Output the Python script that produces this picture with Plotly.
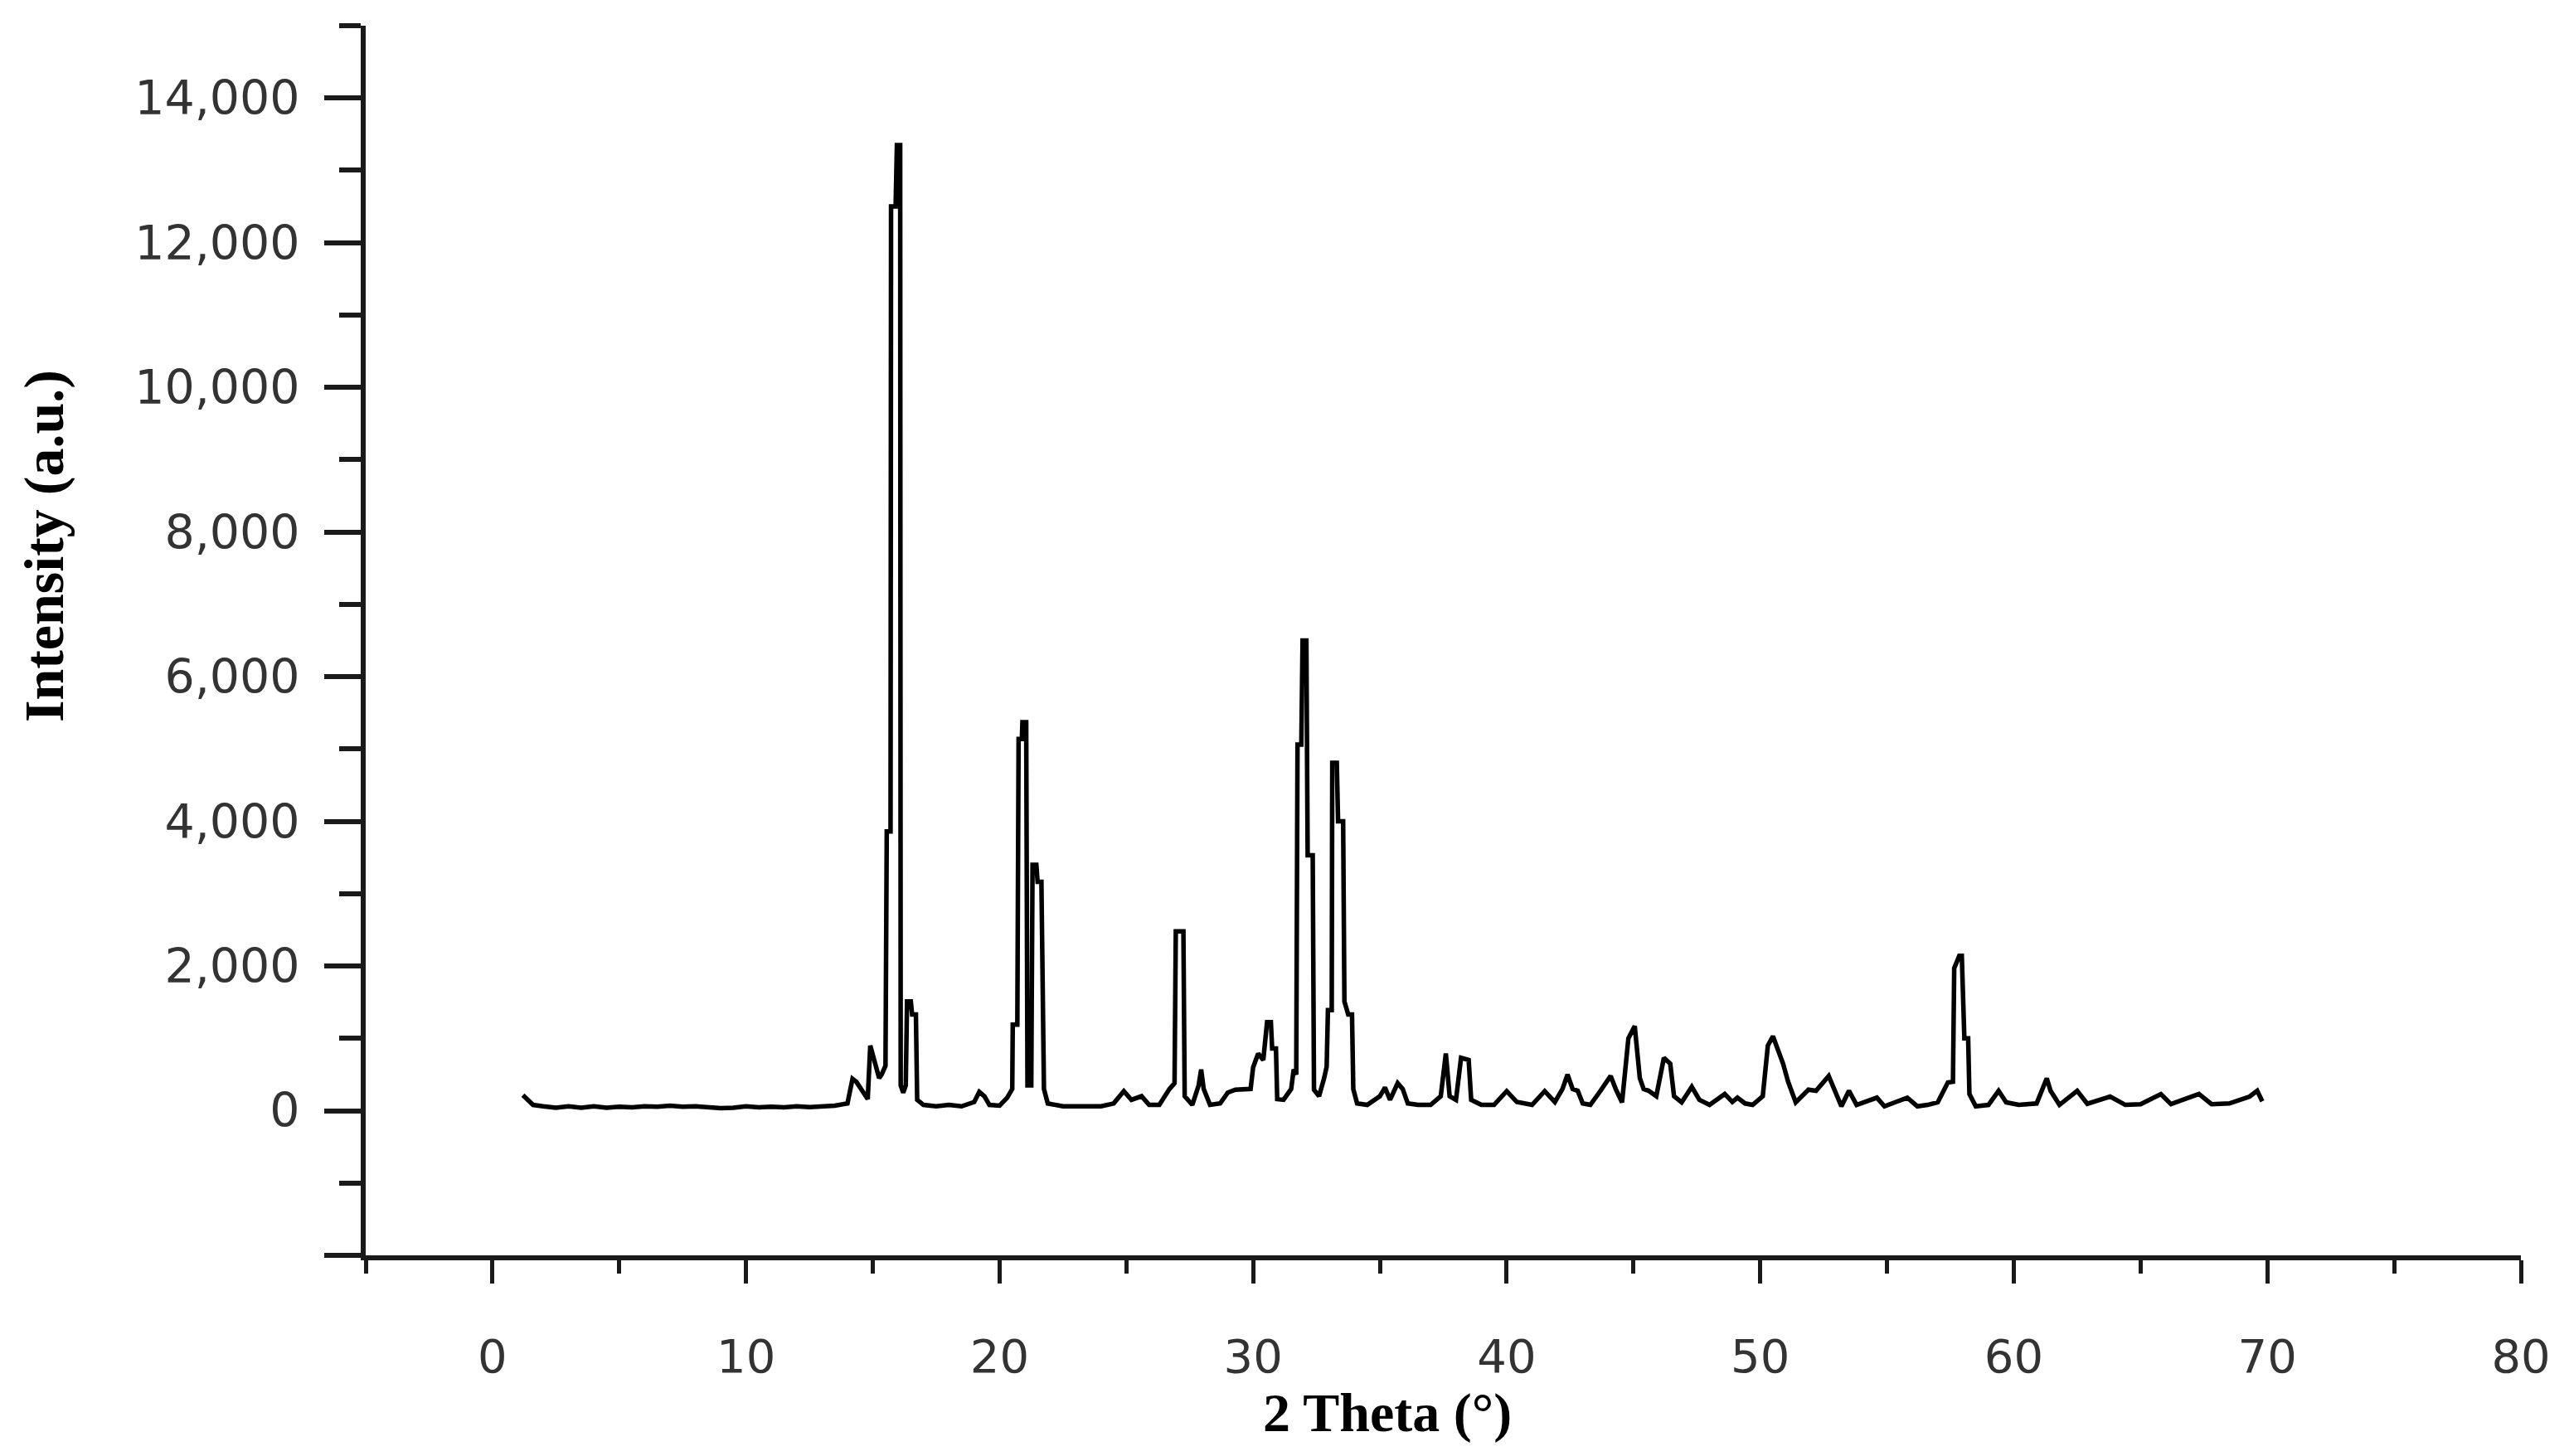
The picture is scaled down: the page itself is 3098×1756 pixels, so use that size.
import plotly.graph_objects as go

# ---- data (2 Theta in degrees, intensity in a.u.) ----
two_theta = [
    1.2, 1.6, 2.0, 2.5, 3.0, 3.5, 4.0, 4.5, 5.0, 5.5, 6.0, 6.5, 7.0, 7.5, 8.0, 8.5, 9.0, 9.5,
    10.0, 10.5, 11.0, 11.5, 12.0, 12.5, 13.0, 13.5, 14.0,
    14.2, 14.35, 14.6, 14.8, 14.9, 15.1, 15.25, 15.35, 15.5, 15.55, 15.7, 15.72, 15.9, 15.95,
    16.08, 16.1, 16.2, 16.3, 16.35, 16.5, 16.55, 16.7, 16.75, 17.0, 17.5, 18.0, 18.5, 19.0,
    19.2, 19.4, 19.6, 20.0, 20.3, 20.5, 20.52, 20.7, 20.75, 20.88, 20.9, 21.05, 21.1, 21.25,
    21.3, 21.45, 21.5, 21.65, 21.7, 21.75, 21.9, 22.5, 23.0, 23.5, 24.0, 24.5, 24.9, 25.2,
    25.6, 25.9, 26.3, 26.7, 26.9, 26.95, 27.25, 27.3, 27.6, 27.85, 27.95, 28.05, 28.3, 28.7,
    29.0, 29.3, 29.7, 29.9, 30.0, 30.2, 30.4, 30.55, 30.7, 30.75, 30.9, 30.95, 31.2, 31.5,
    31.6, 31.7, 31.75, 31.9, 31.95, 32.1, 32.15, 32.35, 32.4, 32.6, 32.8, 32.9, 32.95, 33.1,
    33.12, 33.3, 33.35, 33.55, 33.6, 33.7, 33.75, 33.9, 33.95, 34.1, 34.5, 35.0, 35.2, 35.4,
    35.7, 35.9, 36.1, 36.5, 37.0, 37.4, 37.6, 37.75, 38.0, 38.2, 38.5, 38.6, 39.0, 39.5,
    40.0, 40.4, 41.0, 41.5, 41.9, 42.2, 42.4, 42.6, 42.8, 43.0, 43.3, 43.7, 44.1, 44.3,
    44.55, 44.8, 45.05, 45.25, 45.4, 45.6, 45.9, 46.2, 46.45, 46.6, 46.9, 47.3, 47.6, 48.0,
    48.6, 48.9, 49.1, 49.4, 49.7, 50.1, 50.3, 50.5, 50.65, 50.9, 51.1, 51.4, 51.9, 52.2,
    52.7, 53.0, 53.2, 53.5, 53.8, 54.6, 54.9, 55.8, 56.2, 56.6, 57.0, 57.4, 57.6, 57.65,
    57.85, 57.95, 58.05, 58.2, 58.25, 58.5, 59.0, 59.4, 59.7, 60.2, 60.9, 61.3, 61.45, 61.8,
    62.5, 62.9, 63.8, 64.4, 65.0, 65.8, 66.2, 67.3, 67.8, 68.5, 69.3, 69.6, 69.8,
]
intensity = [
    215, 80, 60, 40, 60, 40, 60, 40, 55, 45, 60, 55, 70, 55, 60, 40, 35, 40,
    60, 45, 55, 45, 60, 50, 60, 70, 100,
    440, 400, 250, 160, 900, 620, 450, 500, 620, 3860, 3860, 12500, 12500, 13350,
    13350, 350, 250, 350, 1510, 1510, 1330, 1330, 150, 80, 60, 80, 60, 120,
    260, 200, 80, 70, 180, 300, 1190, 1190, 5140, 5140, 5370, 5370, 350, 350,
    3400, 3400, 3165, 3165, 1050, 300, 100, 60, 60, 60, 60, 100, 270, 150,
    200, 80, 80, 300, 380, 2480, 2480, 200, 80, 350, 570, 300, 80, 100,
    250, 290, 300, 300, 600, 790, 700, 1225, 1225, 860, 860, 160, 150, 300,
    570, 500, 5060, 5060, 6500, 6500, 3530, 3530, 290, 200, 450, 610, 1390, 1390,
    4810, 4810, 4000, 4000, 1510, 1400, 1330, 1330, 300, 100, 80, 200, 320, 150,
    380, 300, 100, 80, 80, 200, 790, 200, 150, 730, 700, 150, 80, 80,
    270, 120, 80, 270, 120, 300, 500, 300, 275, 100, 80, 275, 480, 300,
    115, 1000, 1170, 450, 300, 275, 200, 730, 650, 200, 115, 330, 150, 80,
    230, 120, 180, 100, 80, 200, 900, 1030, 900, 650, 400, 115, 290, 275,
    480, 250, 60, 275, 80, 180, 60, 180, 60, 80, 115, 390, 400, 1970,
    2140, 2140, 1000, 1000, 230, 60, 80, 275, 115, 80, 100, 447, 275, 80,
    275, 95, 195, 80, 90, 230, 90, 230, 90, 100, 195, 275, 130,
]

x_tick_vals = [0, 10, 20, 30, 40, 50, 60, 70, 80]
x_tick_text = ["0", "10", "20", "30", "40", "50", "60", "70", "80"]
y_tick_vals = [-2000, 0, 2000, 4000, 6000, 8000, 10000, 12000, 14000]
y_tick_text = ["", "0", "2,000", "4,000", "6,000", "8,000", "10,000", "12,000", "14,000"]

x_title = "2 Theta (°)"
y_title = "Intensity (a.u.)"

axis_color = "#1a1a1a"
label_color = "#333333"

fig = go.Figure()
fig.add_trace(go.Scatter(
    x=two_theta, y=intensity, mode="lines",
    line=dict(color="black", width=5.5),
    showlegend=False, hoverinfo="x+y",
))

fig.update_layout(
    width=3098, height=1756,
    paper_bgcolor="white", plot_bgcolor="white",
    margin=dict(l=433, r=66, t=23, b=250),
    showlegend=False,
)

fig.update_xaxes(
    range=[-5, 80], showgrid=False, zeroline=False,
    showline=True, linecolor=axis_color, linewidth=6,
    tickmode="array", tickvals=x_tick_vals, ticktext=x_tick_text,
    ticks="outside", ticklen=28, tickwidth=5, tickcolor=axis_color,
    tickfont=dict(family="DejaVu Sans", size=56, color=label_color),
    ticklabelstandoff=40,
    minor=dict(dtick=5, tick0=0, ticks="outside", ticklen=16, tickwidth=5, tickcolor=axis_color),
)
fig.update_yaxes(
    range=[-2000, 15000], showgrid=False, zeroline=False,
    showline=True, linecolor=axis_color, linewidth=6,
    tickmode="array", tickvals=y_tick_vals, ticktext=y_tick_text,
    ticks="outside", ticklen=44, tickwidth=6, tickcolor=axis_color,
    tickfont=dict(family="DejaVu Sans", size=57, color=label_color),
    ticklabelstandoff=18,
    minor=dict(dtick=1000, tick0=0, ticks="outside", ticklen=26, tickwidth=6, tickcolor=axis_color),
)

fig.add_annotation(
    text=x_title, xref="paper", yref="paper", x=0.474, y=-0.128,
    xanchor="center", yanchor="middle", showarrow=False,
    font=dict(family="Liberation Serif", size=66, color="black", weight="bold"),
)
fig.add_annotation(
    text=y_title, xref="paper", yref="paper", x=-0.149, y=0.577,
    xanchor="center", yanchor="middle", showarrow=False, textangle=-90,
    font=dict(family="Liberation Serif", size=68, color="black", weight="bold"),
)

fig.write_html("out.html")
